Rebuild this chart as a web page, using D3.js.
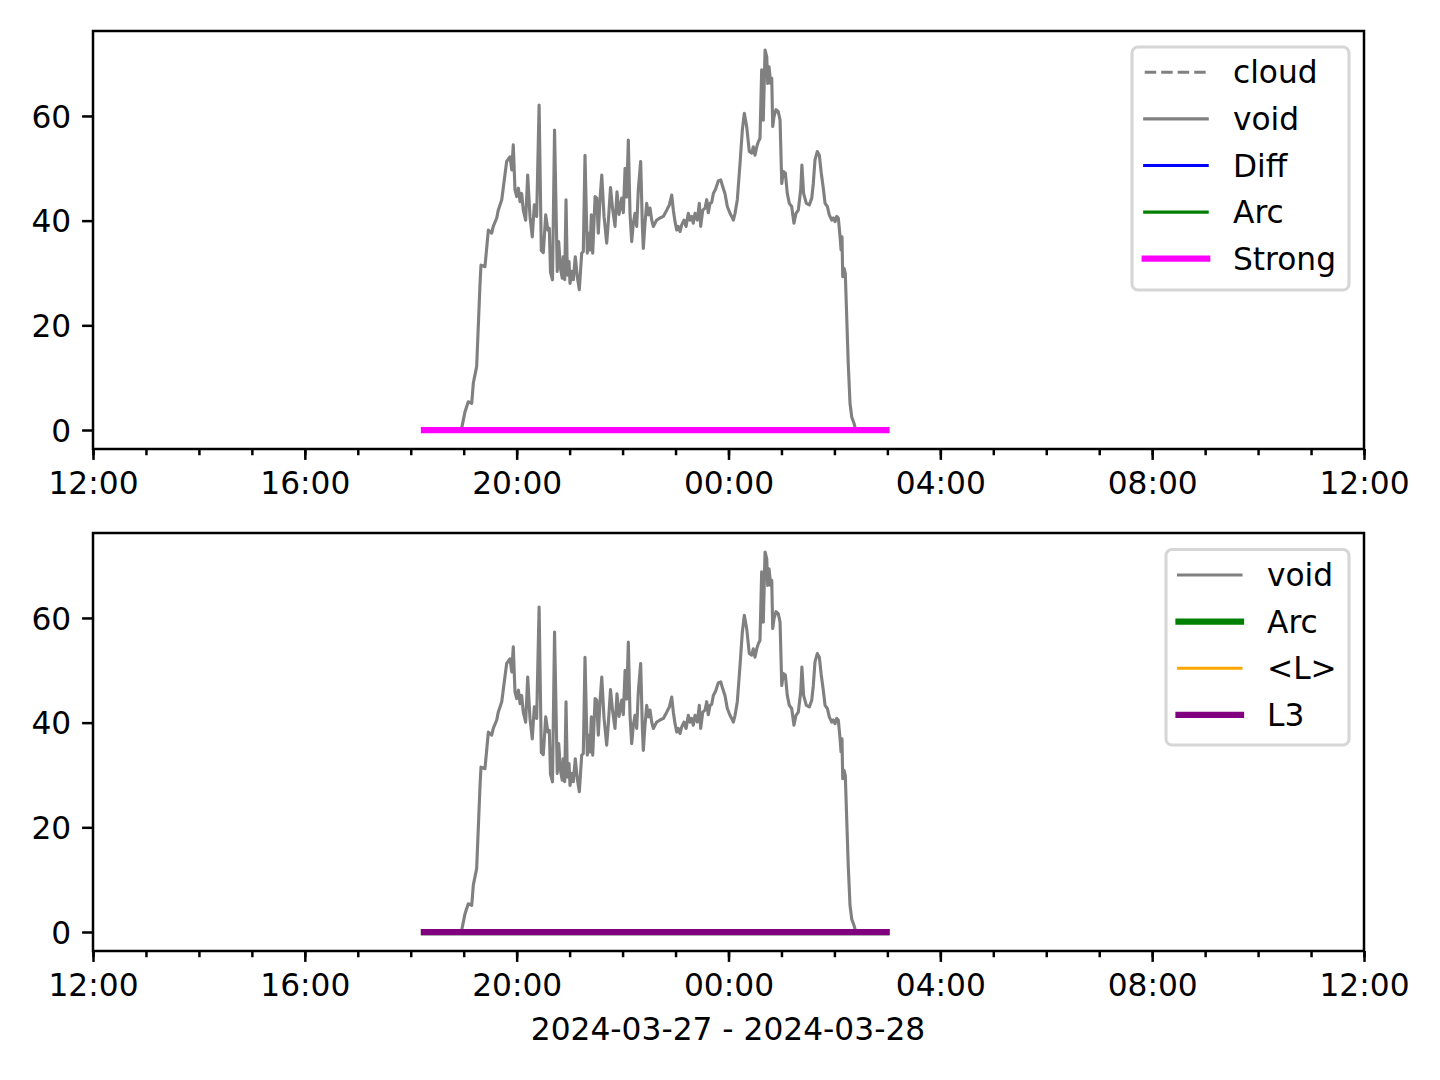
<!DOCTYPE html>
<html><head><meta charset="utf-8">
<script src="https://cdn.jsdelivr.net/npm/d3@7"></script>
<style>body{margin:0;background:#fff}svg{display:block}text{font-family:"DejaVu Sans",sans-serif;fill:#000}</style>
</head><body><svg id="c" width="1440" height="1080"></svg>
<script>
// ---- data ----
const xStart = "2024-03-27 12:00:00", xEnd = "2024-03-28 12:00:00";
const xLabel = "2024-03-27 - 2024-03-28";
const yTicks = [0, 20, 40, 60];
const voidTimes = ["18:57:40","19:01:30","19:05:10","19:09:05","19:10:55","19:14:40","19:18:30","19:19:35","19:24:05","19:27:55","19:31:40","19:33:30","19:37:25","19:39:10","19:43:05","19:46:00","19:48:40","19:52:30","19:54:25","19:56:10","19:58:05","20:00:05","20:02:00","20:03:50","20:05:40","20:07:30","20:10:10","20:12:30","20:15:05","20:17:40","20:20:00","20:22:40","20:25:25","20:27:55","20:30:10","20:32:55","20:35:20","20:37:00","20:38:20","20:40:35","20:42:55","20:46:00","20:47:35","20:49:55","20:51:40","20:52:50","20:54:25","20:55:55","20:57:25","20:59:20","21:00:25","21:02:40","21:04:10","21:06:25","21:08:40","21:11:00","21:13:40","21:15:30","21:17:25","21:20:00","21:21:35","21:23:05","21:24:35","21:26:10","21:28:50","21:30:40","21:32:30","21:34:25","21:36:25","21:39:00","21:42:00","21:43:50","21:46:20","21:48:35","21:51:25","21:53:40","21:56:00","21:59:00","22:00:50","22:02:50","22:04:40","22:06:30","22:08:25","22:10:20","22:12:10","22:14:05","22:16:00","22:17:50","22:20:30","22:22:25","22:23:30","22:25:25","22:27:20","22:29:10","22:31:05","22:33:00","22:34:50","22:38:40","22:42:25","22:46:10","22:50:00","22:53:00","22:55:40","22:57:30","22:59:25","23:01:20","23:03:05","23:05:05","23:07:00","23:09:35","23:11:55","23:14:30","23:16:25","23:18:20","23:20:05","23:22:05","23:24:40","23:26:55","23:28:30","23:30:50","23:33:25","23:35:20","23:37:05","23:39:05","23:41:00","23:42:50","23:45:20","23:48:30","23:51:10","23:53:25","23:56:00","23:58:40","00:01:40","00:03:35","00:05:30","00:07:25","00:10:00","00:13:05","00:15:40","00:17:55","00:20:35","00:23:35","00:26:20","00:28:05","00:30:00","00:32:00","00:33:50","00:35:40","00:37:35","00:39:25","00:41:25","00:43:20","00:44:25","00:45:55","00:47:50","00:49:00","00:50:05","00:51:35","00:53:50","00:56:25","00:58:25","01:00:20","01:02:05","01:04:25","01:06:35","01:08:55","01:11:35","01:14:10","01:16:30","01:19:05","01:21:50","01:23:10","01:25:05","01:28:10","01:31:35","01:34:20","01:36:05","01:38:00","01:40:35","01:42:55","01:45:05","01:47:25","01:49:25","01:52:00","01:54:10","01:57:00","01:58:50","02:00:40","02:02:35","02:04:25","02:06:25","02:07:30","02:08:35","02:09:25","02:10:55","02:12:20","02:13:55","02:15:40","02:17:40","02:19:35","02:22:10","02:23:40"];
const voidValues = [0.3,3.5,5.4,5.1,9.0,12.1,28.0,31.5,31.2,38.2,37.6,38.9,40.5,42.0,44.0,47.8,51.3,52.2,49.7,54.5,45.9,44.6,46.2,43.6,45.2,42.0,40.1,48.7,40.8,36.9,43.0,40.8,62.1,34.3,33.9,41.1,38.2,38.5,30.1,28.7,57.3,30.3,36.0,30.6,29.0,33.1,28.7,44.0,29.6,32.2,28.0,30.3,28.7,33.1,29.3,26.8,33.8,34.1,52.5,33.8,37.6,34.4,41.1,33.8,44.6,44.3,37.6,44.0,48.7,40.8,35.7,39.8,46.3,42.4,38.9,45.5,41.2,44.3,41.5,50.0,44.5,55.4,41.4,36.0,39.5,41.4,38.9,45.9,51.3,38.9,34.7,39.5,43.3,41.1,42.4,40.1,38.9,40.1,40.5,40.8,42.0,43.0,44.9,42.0,39.8,38.2,38.9,37.9,39.2,40.1,38.9,41.4,40.1,40.8,39.5,41.4,40.1,43.3,38.9,42.0,42.4,44.0,41.5,43.3,43.5,45.2,46.0,47.6,47.8,46.5,45.2,42.7,41.4,40.8,40.1,41.4,44.0,51.0,57.3,60.5,58.0,53.2,52.9,54.1,52.5,54.1,55.1,55.7,68.8,59.2,72.6,71.3,66.2,69.4,66.2,67.2,58.0,59.9,61.2,60.8,59.2,47.1,49.4,49.1,45.2,43.3,42.7,39.5,41.4,42.0,45.9,50.6,45.2,43.3,43.0,44.3,47.1,51.6,53.2,52.5,49.1,46.2,43.3,42.7,41.1,40.1,40.5,39.8,40.8,40.5,36.9,34.4,36.9,29.3,30.9,29.9,21.7,12.7,5.1,2.5,1.3,0.3];
// flag series (constant zero over the flagged interval)
const flagTimes = ["18:15:00", "02:59:00"];
const flagValues = [0, 0];
const topLegend = ["cloud", "void", "Diff", "Arc", "Strong"];
const bottomLegend = ["void", "Arc", "<L>", "L3"];

// ---- helpers ----
const parseFull = d3.utcParse("%Y-%m-%d %H:%M:%S");
function toDate(t) {
  const h = +t.slice(0, 2);
  return parseFull((h < 12 ? "2024-03-28 " : "2024-03-27 ") + t);
}
const voidData = voidTimes.map((t, i) => ({t: toDate(t), v: voidValues[i]}));
const flagData = flagTimes.map((t, i) => ({t: toDate(t), v: flagValues[i]}));

const svg = d3.select("#c");
const L = 93, R = 1364, H = 418;
const x = d3.scaleUtc().domain([parseFull(xStart), parseFull(xEnd)]).range([L, R]);
const vmax = d3.max(voidValues), vmin = 0, pad = (vmax - vmin) * 0.05;
const FS = 31.25, LW = 3.125;

function panel(top, series, legend, legBox) {
  const y = d3.scaleLinear().domain([vmin - pad, vmax + pad]).range([top + H, top]);
  const g = svg.append("g");
  const line = d3.line().x(d => x(d.t)).y(d => y(d.v));
  series.forEach(s => {
    g.append("path").datum(s.data).attr("d", line).attr("fill", "none")
      .attr("stroke", s.color).attr("stroke-width", s.w)
      .attr("stroke-linejoin", "round").attr("stroke-linecap", "square")
      .attr("stroke-dasharray", s.dash || null);
  });
  // axes
  const xAxis = d3.axisBottom(x).ticks(d3.utcHour.every(4)).tickFormat(d3.utcFormat("%H:%M"))
    .tickSize(10.9).tickPadding(10.9);
  const xMinor = d3.axisBottom(x).ticks(d3.utcHour.every(1)).tickFormat("").tickSize(6.25);
  const yAxis = d3.axisLeft(y).tickValues(yTicks).tickSize(10.9).tickPadding(10.9);
  const gm = g.append("g").attr("transform", `translate(0,${top + H})`).call(xMinor);
  const gx = g.append("g").attr("transform", `translate(0,${top + H})`).call(xAxis);
  const gy = g.append("g").attr("transform", `translate(${L},0)`).call(yAxis);
  [gm, gx, gy].forEach(a => {
    a.select(".domain").remove();
    a.selectAll("line").attr("stroke", "#000").attr("stroke-width", 2.5);
    a.selectAll("text").attr("font-size", FS).attr("font-family", "DejaVu Sans").attr("fill", "#000");
  });
  gx.selectAll("text").attr("dy", null).attr("y", 45);
  gy.selectAll("text").attr("dy", "0.36em");
  g.append("rect").attr("x", L).attr("y", top).attr("width", R - L).attr("height", H)
    .attr("fill", "none").attr("stroke", "#000").attr("stroke-width", 2.5);
  // legend
  const lg = svg.append("g");
  lg.append("rect").attr("x", legBox.x).attr("y", legBox.y).attr("width", legBox.w).attr("height", legBox.h)
    .attr("rx", 6).attr("fill", "rgba(255,255,255,0.8)").attr("stroke", "#d6d6d6").attr("stroke-width", 3.1);
  legend.forEach((name, i) => {
    const s = series.find(d => d.name === name);
    const cy = legBox.row0 + i * 46.6;
    lg.append("line").attr("x1", legBox.hx).attr("x2", legBox.hx + 62.5).attr("y1", cy).attr("y2", cy)
      .attr("stroke", s.color).attr("stroke-width", s.w)
      .attr("stroke-linecap", s.dash ? "butt" : "square").attr("stroke-dasharray", s.dash || null);
    lg.append("text").attr("x", legBox.tx).attr("y", cy + 11).attr("font-size", FS).text(name);
  });
}

panel(31, [
  {name: "cloud", data: [], color: "#808080", w: LW, dash: "11.5,5"},
  {name: "void", data: voidData, color: "#808080", w: LW},
  {name: "Diff", data: flagData, color: "#0000ff", w: LW},
  {name: "Arc", data: flagData, color: "#008000", w: LW},
  {name: "Strong", data: flagData, color: "#ff00ff", w: 2 * LW}
], topLegend, {x: 1132, y: 47, w: 217, h: 243, row0: 72.3, hx: 1144.7, tx: 1233});

panel(533, [
  {name: "void", data: voidData, color: "#808080", w: LW},
  {name: "Arc", data: flagData, color: "#008000", w: 2 * LW},
  {name: "<L>", data: flagData, color: "#ffa500", w: LW},
  {name: "L3", data: flagData, color: "#800080", w: 2 * LW}
], bottomLegend, {x: 1166, y: 549.5, w: 183, h: 195.5, row0: 575, hx: 1178.5, tx: 1267});

svg.append("text").attr("x", 728).attr("y", 1040).attr("text-anchor", "middle")
  .attr("font-size", FS).text(xLabel);
</script></body></html>
